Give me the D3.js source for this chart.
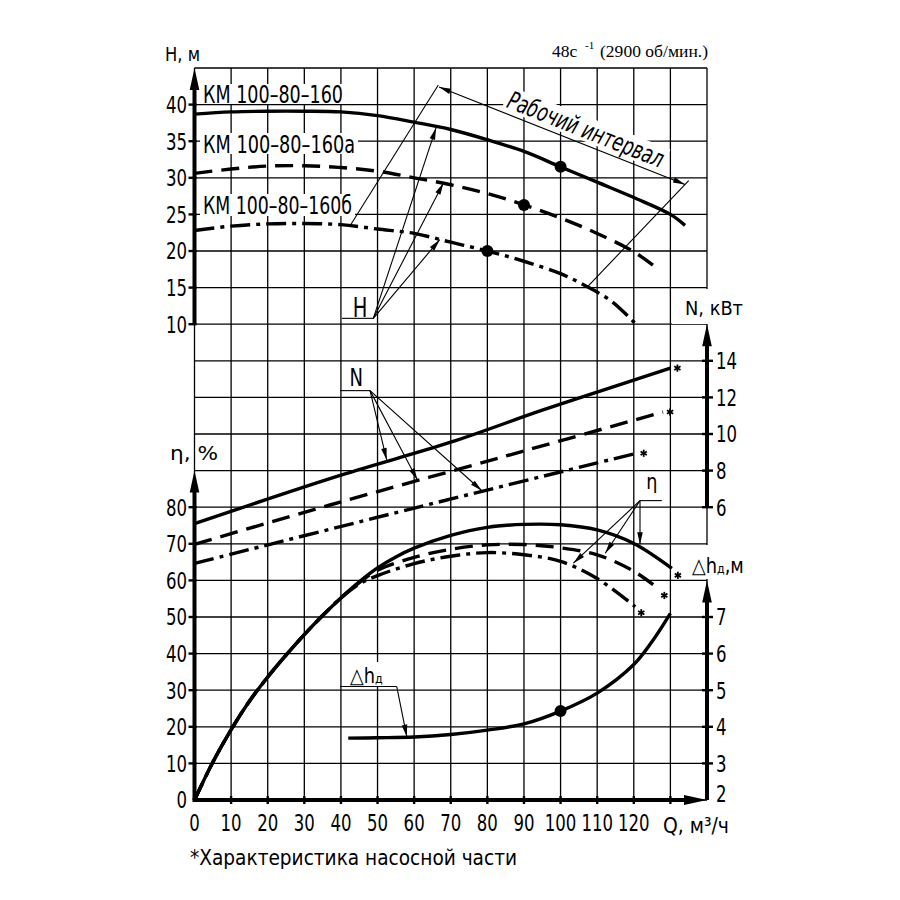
<!DOCTYPE html>
<html>
<head>
<meta charset="utf-8">
<script src="https://cdn.jsdelivr.net/npm/d3@7"></script>
<style>body{margin:0;background:#fff}</style>
</head>
<body>
<script>
// Tick labels
const qTicks = [0, 10, 20, 30, 40, 50, 60, 70, 80, 90, 100, 110, 120];
const hTicks = [10, 15, 20, 25, 30, 35, 40];
const etaTicks = [0, 10, 20, 30, 40, 50, 60, 70, 80];
const nTicks = [6, 8, 10, 12, 14];
const dhTicks = [2, 3, 4, 5, 6, 7];

// Head H, m
const qH1 = [0, 10, 20, 30, 40, 50, 60, 70, 80, 90, 100, 110, 120, 130, 134];
const h1 = [38.7, 39.0, 39.1, 39.1, 39.0, 38.5, 37.6, 36.6, 35.2, 33.6, 31.5, 29.4, 27.3, 25.0, 23.5];
const qH2 = [0, 10, 20, 30, 40, 50, 60, 70, 80, 90, 100, 110, 120, 125.8];
const h2 = [30.6, 31.2, 31.6, 31.65, 31.4, 30.9, 30.0, 29.05, 27.85, 26.3, 24.5, 22.4, 19.9, 17.85];
const qH3 = [0, 10, 20, 30, 40, 50, 60, 70, 80, 90, 100, 107, 114, 120.4];
const h3 = [22.8, 23.4, 23.7, 23.75, 23.6, 23.0, 22.4, 21.2, 20.0, 18.6, 16.9, 15.2, 13.1, 10.1];

// Power N, kW
const qN1 = [0, 40, 70, 95, 120, 130];
const n1 = [5.1, 7.75, 9.55, 11.3, 12.95, 13.6];
const qN2 = [0, 37, 84.4, 128];
const n2 = [3.97, 6.12, 8.76, 11.2];
const qN3 = [0, 59.8, 120.8];
const n3 = [2.93, 5.94, 8.95];

// Efficiency, %
const qEta1 = [0, 5, 10, 15, 20, 25, 30, 35, 40, 45, 50, 55, 60, 70, 80, 90, 100, 110, 120, 130.4];
const eta1 = [0, 10.3, 19.2, 27, 33.6, 39.6, 45.2, 50.4, 55.2, 59.6, 63.4, 66.4, 68.8, 72.3, 74.5, 75.3, 75.2, 73.8, 70.1, 63.3];
const qEta2 = [0, 5, 10, 15, 20, 25, 30, 35, 40, 45, 50, 60, 70, 80, 90, 100, 110, 120, 126.7];
const eta2 = [0, 10.3, 19.2, 27, 33.6, 39.6, 45.2, 50.4, 55.2, 59.4, 62.8, 66.3, 68.5, 69.7, 69.8, 68.9, 67.0, 62.5, 57.8];
const qEta3 = [0, 5, 10, 15, 20, 25, 30, 35, 40, 45, 50, 60, 70, 80, 90, 100, 110, 120.4];
const eta3 = [0, 10.3, 19.2, 27, 33.6, 39.6, 45.2, 50.4, 55.2, 59.0, 61.3, 64.6, 66.6, 67.6, 67.0, 65.2, 60.5, 52.8];

// NPSH, m
const qDh = [42, 50, 60, 70, 80, 90, 100, 110, 120, 125, 130];
const dh = [3.69, 3.70, 3.72, 3.79, 3.91, 4.08, 4.43, 4.92, 5.7, 6.33, 7.1];

// Marked duty points
const dutyH = [[100, 31.5], [90, 26.3], [80, 20.0]];
const dutyDh = [[100, 4.43]];

// Annotation anchors, in data units
const workArrow = [[66.8, 42.4], [134.0, 29.1]];
const workLeft = [[66.6, 42.67], [42.5, 23.45]];
const workRight = [[135.0, 29.6], [107.2, 15.04]];
const hLeader = [[40.3, 10.8], [48.85, 10.8]];
const hTips = [[66, 36.85], [68, 29.3], [67, 21.55]];
const nLeader = [[39.75, 12.37], [47.95, 12.37]];
const nTips = [[52.5, 8.58], [60.9, 7.49], [78.5, 6.9]];
const etaLeader = [[121.7, 81.8], [127.65, 81.8]];
const etaTips = [[121.7, 69.9], [112.2, 67.4], [103.5, 64.7]];
const dhLeader = [[39.75, 5.1], [55.25, 5.1]];
const dhTip = [58, 3.73];

const FONT = "'DejaVu Sans', 'Liberation Sans', sans-serif";

const svg = d3.select("body").append("svg")
  .attr("width", 900).attr("height", 900)
  .style("background", "#fff");

// Scales: one grid row = 36.6px
const x = d3.scaleLinear().domain([0, 140]).range([194.5, 707]);
const row = d3.scaleLinear().domain([0, 20]).range([800, 68]);
const yH = d3.scaleLinear().domain([10, 45]).range([row(13), row(20)]);
const yEta = d3.scaleLinear().domain([0, 90]).range([row(0), row(9)]);
const yN = d3.scaleLinear().domain([6, 16]).range([row(8), row(13)]);
const yDh = d3.scaleLinear().domain([2, 8]).range([row(0), row(6)]);

// Grid
const grid = svg.append("g").attr("stroke", "#000").attr("stroke-width", 1.3);
grid.selectAll("line.v").data(d3.range(0, 141, 10)).join("line").attr("class", "v")
  .attr("x1", d => x(d)).attr("x2", d => x(d))
  .attr("y1", row(0)).attr("y2", row(20));
grid.selectAll("line.h").data(d3.range(0, 21)).join("line").attr("class", "h")
  .attr("x1", x(0)).attr("x2", x(140))
  .attr("y1", d => row(d)).attr("y2", d => row(d));

// White backgrounds behind labels that sit on the grid
const bgs = [[200, 84, 147, 20], [200, 133, 158, 21], [200, 194, 155, 22],
  [672, 289, 80, 35], [673, 545, 80, 34], [346, 662, 48, 24]];
svg.append("g").selectAll("rect").data(bgs).join("rect")
  .attr("x", d => d[0]).attr("y", d => d[1])
  .attr("width", d => d[2]).attr("height", d => d[3])
  .attr("fill", "#fff");

// text helpers
function fitText(txt, px, py, size, len, g = svg) {
  return g.append("text").attr("x", px).attr("y", py)
    .attr("textLength", len).attr("lengthAdjust", "spacingAndGlyphs")
    .style("font-family", FONT).style("font-size", size + "px").text(txt);
}
function numText(txt, px, py, size, anchor, sx = 0.72) {
  return svg.append("text")
    .attr("transform", `translate(${px},${py}) scale(${sx},1)`)
    .attr("text-anchor", anchor)
    .style("font-family", FONT).style("font-size", size + "px").text(txt);
}

// Model labels
fitText("КМ 100–80–160", 203, 103, 25, 140);
fitText("КМ 100–80–160а", 203, 153, 25, 152);
fitText("КМ 100–80–160б", 203, 214, 25, 149);

// Curves
const line = (ys) => d3.line().x(d => x(d[0])).y(d => ys(d[1])).curve(d3.curveCatmullRom.alpha(0.5));
const DASH = "18,9", DASHDOT = "20,6,4,6";
const curves = [
  [qH1, h1, yH, null], [qH2, h2, yH, DASH], [qH3, h3, yH, DASHDOT],
  [qN1, n1, yN, null], [qN2, n2, yN, DASH], [qN3, n3, yN, DASHDOT],
  [qEta1, eta1, yEta, null], [qEta2, eta2, yEta, DASH], [qEta3, eta3, yEta, DASHDOT],
  [qDh, dh, yDh, null]
];
curves.forEach(([qs, vs, ys, dash]) => {
  svg.append("path").datum(d3.zip(qs, vs))
    .attr("d", line(ys))
    .attr("fill", "none").attr("stroke", "#000").attr("stroke-width", 3.4)
    .attr("stroke-dasharray", dash);
});

// Duty points
svg.append("g").selectAll("circle").data(dutyH).join("circle")
  .attr("cx", d => x(d[0])).attr("cy", d => yH(d[1])).attr("r", 6);
svg.append("g").selectAll("circle").data(dutyDh).join("circle")
  .attr("cx", d => x(d[0])).attr("cy", d => yDh(d[1])).attr("r", 6);

// Asterisks at curve ends
function star(cx, cy) {
  const g = svg.append("g").attr("stroke", "#000").attr("stroke-width", 1.8);
  [0, 60, 120].forEach(a => {
    const r = 3.6, t = a * Math.PI / 180;
    g.append("line").attr("x1", cx - r * Math.sin(t)).attr("y1", cy - r * Math.cos(t))
      .attr("x2", cx + r * Math.sin(t)).attr("y2", cy + r * Math.cos(t));
  });
}
[[qN1, n1, yN, 7, 0], [qN2, n2, yN, 7, 0], [qN3, n3, yN, 7, 0],
 [qEta1, eta1, yEta, 6, 7], [qEta2, eta2, yEta, 6, 7], [qEta3, eta3, yEta, 6, 6]]
  .forEach(([qs, vs, ys, dx, dy]) => {
    const q = qs[qs.length - 1], v = vs[vs.length - 1];
    star(x(q) + dx, ys(v) + dy);
  });

// Axes
const axes = svg.append("g").attr("stroke", "#000").attr("stroke-width", 4);
function vAxis(px, yBottom, yTip) {
  axes.append("line").attr("x1", px).attr("x2", px).attr("y1", yBottom).attr("y2", yTip + 15);
  svg.append("path").attr("d", `M${px},${yTip}L${px - 4.8},${yTip + 22}L${px + 4.8},${yTip + 22}Z`);
}
vAxis(x(0), yH(10), yH(45));
vAxis(x(0), yEta(0), yEta(90));
vAxis(x(140), yN(6), yN(16));
vAxis(x(140), yDh(2), yDh(8));
axes.append("line").attr("x1", x(0) - 2).attr("x2", x(140) - 15).attr("y1", row(0)).attr("y2", row(0));
svg.append("path").attr("d", `M${x(140)},${row(0)}L${x(140) - 23},${row(0) - 5}L${x(140) - 23},${row(0) + 5}Z`);

// Ticks
const ticks = svg.append("g").attr("stroke", "#000").attr("stroke-width", 2.4);
hTicks.forEach(v => ticks.append("line").attr("x1", x(0) - 6).attr("x2", x(0) + 2).attr("y1", yH(v)).attr("y2", yH(v)));
etaTicks.slice(1).forEach(v => ticks.append("line").attr("x1", x(0) - 6).attr("x2", x(0) + 2).attr("y1", yEta(v)).attr("y2", yEta(v)));
qTicks.slice(1).concat([130]).forEach(q => ticks.append("line").attr("x1", x(q)).attr("x2", x(q)).attr("y1", row(0) - 4).attr("y2", row(0) + 4));
nTicks.forEach(v => ticks.append("line").attr("x1", x(140) - 5).attr("x2", x(140) + 6).attr("y1", yN(v)).attr("y2", yN(v)));
dhTicks.slice(1).forEach(v => ticks.append("line").attr("x1", x(140) - 5).attr("x2", x(140) + 6).attr("y1", yDh(v)).attr("y2", yDh(v)));

// Tick labels
hTicks.forEach(v => numText(v, 187, yH(v) + 8.4, 23, "end"));
etaTicks.forEach(v => numText(v, 187, yEta(v) + 8.4, 23, "end"));
qTicks.forEach(q => numText(q, x(q), 831, 23, "middle"));
nTicks.forEach(v => numText(v, 716, yN(v) + 8.4, 23, "start"));
dhTicks.forEach(v => numText(v, 716, yDh(v) + (v === 2 ? 2 : 8.4), 23, "start"));

// Axis titles
fitText("H, м", 165, 61, 19, 35);
fitText("N, кВт", 685, 315, 19, 58);
fitText("η, %", 170, 460, 20, 48);
fitText("Q, м³/ч", 663, 833, 22, 66);
const dhAxisLbl = numText("△h", 692, 573, 21, "start", 0.85);
dhAxisLbl.append("tspan").style("font-size", "13px").text("д");
dhAxisLbl.append("tspan").text(",м");
fitText("*Характеристика насосной  части", 190, 865, 21, 327);

// Speed note
svg.append("text").attr("x", 552).attr("y", 57)
  .style("font-family", "'Liberation Serif', serif").style("font-size", "17.5px").text("48с");
svg.append("text").attr("x", 585).attr("y", 49)
  .style("font-family", "'Liberation Serif', serif").style("font-size", "11px").text("-1");
svg.append("text").attr("x", 600).attr("y", 57).attr("textLength", 108)
  .style("font-family", "'Liberation Serif', serif").style("font-size", "17.5px").text("(2900 об/мин.)");

// Annotation lines
const ann = svg.append("g").attr("stroke", "#000").attr("stroke-width", 1.1);
function seg(p1, p2) {
  ann.append("line").attr("x1", p1[0]).attr("y1", p1[1]).attr("x2", p2[0]).attr("y2", p2[1]);
}
function head(from, to) {
  const a = Math.atan2(to[1] - from[1], to[0] - from[0]);
  const len = 12, hw = 2.8;
  const bx = to[0] - len * Math.cos(a), by = to[1] - len * Math.sin(a);
  svg.append("path").attr("d",
    `M${to[0]},${to[1]}L${bx + hw * Math.sin(a)},${by - hw * Math.cos(a)}L${bx - hw * Math.sin(a)},${by + hw * Math.cos(a)}Z`);
}
function arrow(p1, p2) { seg(p1, p2); head(p1, p2); }
const pH = d => [x(d[0]), yH(d[1])];
const pN = d => [x(d[0]), yN(d[1])];
const pE = d => [x(d[0]), yEta(d[1])];
const pD = d => [x(d[0]), yDh(d[1])];

// Working interval
seg(pH(workLeft[0]), pH(workLeft[1]));
seg(pH(workRight[0]), pH(workRight[1]));
const wa = pH(workArrow[0]), wb = pH(workArrow[1]);
arrow(wa, wb); head(wb, wa);
const ang = Math.atan2(wb[1] - wa[1], wb[0] - wa[0]);
const tcx = wa[0] + (wb[0] - wa[0]) * 0.575, tcy = wa[1] + (wb[1] - wa[1]) * 0.575;
const off = 6;
const wg = svg.append("g").attr("transform",
  `translate(${tcx + off * Math.sin(ang)},${tcy - off * Math.cos(ang)}) rotate(${ang * 180 / Math.PI})`);
wg.append("rect").attr("x", -86).attr("y", -21).attr("width", 172).attr("height", 24).attr("fill", "#fff");
wg.append("text").attr("x", -83).attr("y", 0).attr("textLength", 166).attr("lengthAdjust", "spacingAndGlyphs")
  .style("font-family", FONT).style("font-size", "25px").style("font-style", "italic")
  .text("Рабочий интервал");

// H leader
seg(pH(hLeader[0]), pH(hLeader[1]));
hTips.forEach(t => arrow(pH(hLeader[1]), pH(t)));
svg.append("text").attr("transform", `translate(${x(45.2)},316.5) scale(0.75,1)`).attr("text-anchor", "middle")
  .style("font-family", FONT).style("font-size", "26px").text("H");

// N leader
seg(pN(nLeader[0]), pN(nLeader[1]));
nTips.forEach(t => arrow(pN(nLeader[1]), pN(t)));
svg.append("text").attr("transform", `translate(${x(44.2)},386) scale(0.75,1)`).attr("text-anchor", "middle")
  .style("font-family", FONT).style("font-size", "24px").text("N");

// eta leader
seg(pE(etaLeader[0]), pE(etaLeader[1]));
etaTips.forEach(t => arrow(pE(etaLeader[0]), pE(t)));
svg.append("text").attr("transform", `translate(${x(124.9)},489) scale(0.8,1)`).attr("text-anchor", "middle")
  .style("font-family", FONT).style("font-size", "22px").text("η");

// NPSH leader
seg(pD(dhLeader[0]), pD(dhLeader[1]));
arrow(pD(dhLeader[1]), pD(dhTip));
const dhl = svg.append("text").attr("transform", `translate(350,683) scale(0.85,1)`)
  .style("font-family", FONT).style("font-size", "21px").text("△h");
dhl.append("tspan").style("font-size", "13px").text("д");
</script>
</body>
</html>
